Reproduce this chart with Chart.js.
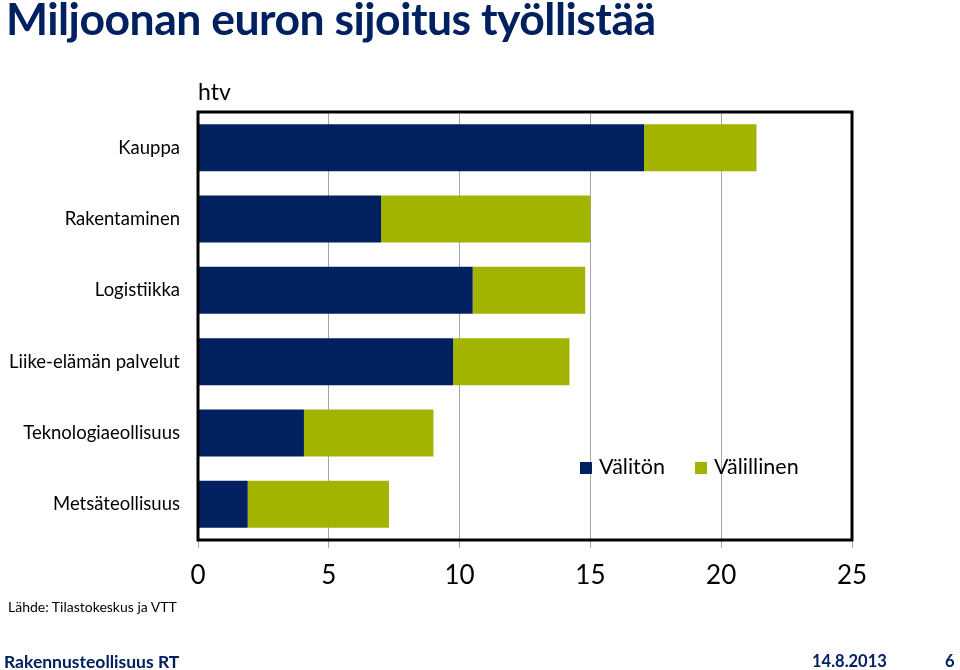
<!DOCTYPE html>
<html>
<head>
<meta charset="utf-8">
<script src="https://cdn.jsdelivr.net/npm/chart.js@4/dist/chart.umd.min.js"></script>
<style>
    body { margin: 0; background: #fff; font-family: Lato, "Open Sans", sans-serif; }
    #wrap { position: relative; width: 960px; height: 670px; overflow: hidden; }
    #chart { position: absolute; left: 0; top: 0; }
    .txt { position: absolute; white-space: nowrap; }
    #title { left: 6px; top: -9px; font-size: 44.5px; font-weight: bold; color: #002060; letter-spacing: -0.5px; }
    #unit { left: 198px; top: 77px; font-size: 23px; color: #000; }
    #legend { left: 580px; top: 453px; font-size: 21.5px; color: #000; }
    #legend span.box { display: inline-block; width: 12px; height: 12px; margin-right: 7px; vertical-align: 0px; }
    #source { left: 8px; top: 598px; font-size: 14px; color: #000; }
    #brand { left: 4px; top: 651px; font-size: 17.5px; font-weight: bold; color: #002060; }
    #date { left: 812px; top: 651px; font-size: 16.5px; font-weight: bold; color: #002060; }
    #page { left: 945px; top: 651px; font-size: 16.5px; font-weight: bold; color: #002060; }
</style>
</head>
<body>
<div id="wrap">
    <canvas id="chart" width="960" height="670"></canvas>
    <div class="txt" id="title">Miljoonan euron sijoitus työllistää</div>
    <div class="txt" id="unit">htv</div>
    <div class="txt" id="legend"></div>
    <div class="txt" id="source">Lähde: Tilastokeskus ja VTT</div>
    <div class="txt" id="brand">Rakennusteollisuus RT</div>
    <div class="txt" id="date">14.8.2013</div>
    <div class="txt" id="page">6</div>
</div>
<script>
// Toimialat ja työllisyysvaikutus (htv / milj. euroa)
const toimialat = ['Kauppa', 'Rakentaminen', 'Logistiikka', 'Liike-elämän palvelut', 'Teknologiaeollisuus', 'Metsäteollisuus'];
const valiton = [17.05, 7.0, 10.5, 9.75, 4.05, 1.9];
const valillinen = [4.3, 8.0, 4.3, 4.45, 4.95, 5.4];
const xTicks = [0, 5, 10, 15, 20, 25];

const sarjat = ['Välitön', 'Välillinen'];
const varit = ['#002060', '#a2b300'];

// Legenda (HTML)
const legend = document.getElementById('legend');
legend.innerHTML = sarjat.map((s, i) =>
    '<span class="box" style="background:' + varit[i] + '"></span>' + s
).join('<span style="display:inline-block;width:30px"></span>');

// Kehys kaavion ympärille
const kehys = {
    id: 'kehys',
    afterDraw(chart) {
        const a = chart.chartArea;
        const ctx = chart.ctx;
        ctx.save();
        ctx.strokeStyle = '#000';
        ctx.lineWidth = 3;
        ctx.strokeRect(a.left, a.top, a.right - a.left, a.bottom - a.top);
        ctx.restore();
    }
};

const ctx = document.getElementById('chart').getContext('2d');
new Chart(ctx, {
    type: 'bar',
    data: {
        labels: toimialat,
        datasets: [
            { label: sarjat[0], data: valiton, backgroundColor: varit[0] },
            { label: sarjat[1], data: valillinen, backgroundColor: varit[1] }
        ]
    },
    options: {
        indexAxis: 'y',
        responsive: false,
        animation: false,
        layout: { padding: { top: 112, right: 108, left: 0, bottom: 70 } },
        datasets: { bar: { categoryPercentage: 1, barPercentage: 0.66 } },
        plugins: {
            legend: { display: false },
            tooltip: { enabled: false }
        },
        scales: {
            x: {
                stacked: true,
                min: 0,
                max: 25,
                afterBuildTicks: scale => { scale.ticks = xTicks.map(v => ({ value: v })); },
                afterFit: scale => { scale.height = 60; },
                grid: { color: '#a6a6a6', lineWidth: 1, tickLength: 8, drawTicks: true },
                border: { display: false },
                ticks: { color: '#000', padding: 12, font: { family: 'Lato', size: 26 } }
            },
            y: {
                stacked: true,
                afterFit: scale => { scale.width = 198; },
                grid: { display: false },
                border: { display: false },
                ticks: { color: '#000', padding: 10, font: { family: 'Lato', size: 18.5 } }
            }
        }
    },
    plugins: [kehys]
});
</script>
</body>
</html>
